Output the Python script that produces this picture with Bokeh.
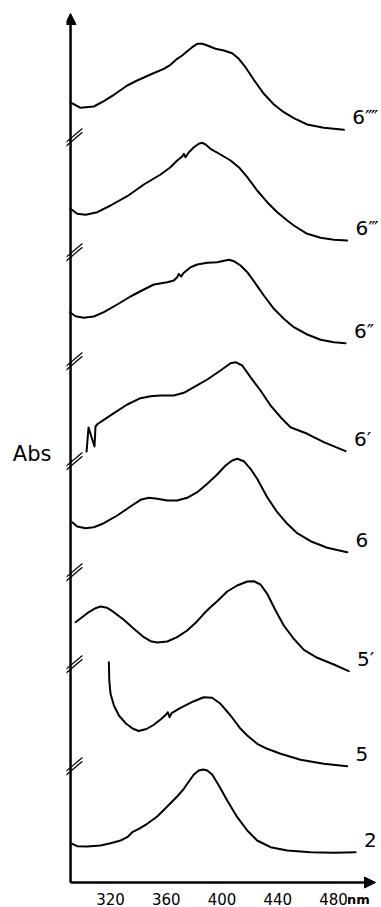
from bokeh.plotting import figure
from bokeh.models import Range1d, FixedTicker, Arrow, NormalHead, LinearAxis
from bokeh.embed import file_html
from bokeh.resources import INLINE
from bokeh.core.properties import value

# ---- data: wavelength (nm) and stacked absorbance (arb. units) ----
wl_6_4 = [291.3, 298.5, 308.0, 315.2, 322.4, 332.0, 339.1, 348.7, 358.2, 363.0, 367.8,
          371.4, 375.0, 378.6, 382.2, 385.8, 389.4, 395.3, 401.3, 407.3, 412.0, 416.8,
          422.8, 430.0, 437.2, 444.3, 451.5, 461.1, 473.0, 487.4]
ab_6_4 = [78.0, 77.47, 77.6, 78.13, 78.77, 79.7, 80.2, 80.8, 81.37, 81.77, 82.37,
          82.7, 83.13, 83.53, 83.87, 83.87, 83.7, 83.37, 83.2, 82.93, 82.37, 81.53,
          80.27, 78.87, 77.8, 77.03, 76.43, 75.8, 75.47, 75.27]

wl_6_3 = [291.3, 296.1, 302.1, 310.5, 320.0, 332.0, 343.9, 355.9, 363.0, 367.8, 371.4,
          372.6, 373.8, 376.2, 379.8, 383.3, 385.8, 388.2, 391.7, 398.9, 406.1, 412.0,
          418.1, 425.2, 432.4, 439.6, 446.8, 451.5, 461.1, 470.7, 480.2, 489.8]
ab_6_3 = [67.37, 66.87, 66.77, 67.03, 67.7, 68.63, 69.8, 70.8, 71.53, 72.2, 72.6,
          72.87, 72.53, 73.03, 73.53, 73.87, 73.97, 73.8, 73.37, 72.8, 72.2, 71.53,
          70.53, 69.2, 68.03, 67.03, 66.2, 65.7, 64.87, 64.47, 64.27, 64.2]

wl_6_2 = [290.8, 294.9, 300.8, 308.0, 315.2, 324.8, 334.3, 343.9, 351.1, 360.7, 365.4,
          367.8, 369.0, 370.7, 372.2, 377.4, 382.2, 389.4, 396.5, 404.9, 408.5, 413.3,
          418.1, 422.8, 430.0, 437.2, 444.3, 451.5, 461.1, 470.7, 480.2, 488.6]
ab_6_2 = [57.03, 56.63, 56.47, 56.6, 57.03, 57.8, 58.6, 59.3, 59.8, 60.03, 60.2,
          60.53, 60.87, 60.6, 60.93, 61.53, 61.8, 61.97, 62.03, 62.27, 62.13, 61.7,
          61.03, 60.13, 58.7, 57.37, 56.37, 55.53, 54.8, 54.27, 54.03, 53.93]

wl_6_1 = [302.8, 304.2, 308.5, 309.2, 310.7, 315.2, 322.4, 332.0, 341.5, 348.7, 355.9,
          365.4, 372.6, 379.8, 389.4, 398.9, 406.1, 409.7, 414.5, 420.4, 427.6, 434.8,
          442.0, 449.1, 461.1, 473.0, 488.6]
ab_6_1 = [43.1, 45.5, 43.6, 45.6, 45.85, 46.27, 46.93, 47.8, 48.43, 48.63, 48.7,
          48.7, 48.97, 49.53, 50.3, 51.2, 51.93, 52.03, 51.7, 50.53, 49.2, 47.7,
          46.53, 45.53, 44.87, 44.03, 43.13]

wl_6 = [292.5, 296.1, 302.1, 308.0, 315.2, 324.8, 334.3, 341.5, 347.5, 353.5, 360.7,
        367.8, 375.0, 382.2, 389.4, 396.5, 402.5, 407.3, 410.9, 415.6, 420.4, 425.2,
        432.4, 439.6, 446.8, 453.9, 463.5, 475.5, 489.8]
ab_6 = [36.03, 35.6, 35.43, 35.53, 35.93, 36.7, 37.6, 38.27, 38.47, 38.37, 38.2,
        38.2, 38.47, 39.03, 39.87, 40.8, 41.7, 42.2, 42.37, 42.13, 41.37, 40.37,
        38.53, 37.03, 35.87, 34.93, 34.13, 33.47, 33.03]

wl_5_1 = [294.9, 303.3, 309.2, 312.8, 317.6, 322.4, 329.5, 336.7, 343.9, 348.7, 353.5,
          360.7, 367.8, 375.0, 382.2, 386.9, 390.5, 396.5, 403.7, 410.9, 418.1, 422.8,
          427.6, 432.4, 438.4, 444.3, 451.5, 458.7, 468.3, 480.2, 490.9]
ab_5_1 = [26.03, 26.93, 27.43, 27.6, 27.47, 27.03, 26.27, 25.37, 24.53, 24.13, 24.0,
          24.1, 24.53, 25.2, 26.13, 26.87, 27.37, 28.13, 29.1, 29.7, 30.1, 30.13,
          29.8, 28.87, 27.2, 25.7, 24.37, 23.27, 22.47, 21.8, 21.13]

wl_5 = [318.8, 319.1, 320.0, 322.4, 326.0, 330.8, 335.8, 340.1, 345.8, 350.8, 355.9,
        359.5, 361.1, 362.3, 363.8, 370.2, 379.8, 386.9, 392.9, 398.9, 406.1, 413.3,
        418.1, 425.2, 432.4, 442.0, 456.3, 473.0, 489.8]
ab_5 = [22.03, 20.2, 18.87, 17.7, 16.7, 15.93, 15.4, 15.15, 15.35, 15.75, 16.3,
        16.75, 17.03, 16.53, 16.93, 17.47, 18.13, 18.53, 18.47, 17.87, 16.7, 15.37,
        14.7, 13.87, 13.37, 12.87, 12.27, 11.87, 11.63]

wl_2 = [292.5, 296.1, 303.3, 312.8, 320.0, 327.2, 332.0, 335.6, 340.3, 346.3, 353.5,
        360.7, 367.8, 372.6, 376.2, 379.8, 383.3, 386.5, 389.4, 392.9, 397.7, 403.7,
        410.9, 418.1, 425.2, 434.8, 446.8, 463.5, 480.2, 495.8]
ab_2 = [3.87, 3.63, 3.6, 3.7, 3.93, 4.2, 4.53, 5.03, 5.37, 5.87, 6.6,
        7.6, 8.6, 9.37, 10.1, 10.8, 11.2, 11.3, 11.2, 10.8, 9.7, 8.2,
        6.53, 5.2, 4.2, 3.53, 3.2, 3.03, 2.97, 3.03]

series_names = ["6\u2057", "6\u2034", "6\u2033", "6\u2032", "6", "5\u2032", "5", "2"]
series_wl = [wl_6_4, wl_6_3, wl_6_2, wl_6_1, wl_6, wl_5_1, wl_5, wl_2]
series_ab = [ab_6_4, ab_6_3, ab_6_2, ab_6_1, ab_6, ab_5_1, ab_5, ab_2]

tick_values = [320, 360, 400, 440, 480]
tick_labels = ["320", "360", "400", "440", "480"]
x_unit = "nm"
x_unit_pos = 497.9
y_title = "Abs"

# axis extent and break marks on the ordinate
x_axis_start = 291.3
x_axis_end = 510.1
y_axis_top = 86.9
break_levels = [11.5, 21.7, 30.9, 42.0, 52.0, 62.9, 74.4]

FONT = "DejaVu Sans"

p = figure(width=381, height=907, output_backend="svg", toolbar_location=None,
           x_range=Range1d(288.4, 514.4), y_range=Range1d(-2.5, 88.2),
           min_border_left=66, min_border_right=0, min_border_top=0, min_border_bottom=0)
p.grid.visible = False
p.outline_line_color = None
p.background_fill_color = "white"
p.border_fill_color = "white"


def plain_axis(ax):
    ax.axis_line_color = None
    ax.major_tick_line_color = None
    ax.minor_tick_line_color = None
    ax.major_tick_out = 0
    ax.major_tick_in = 0
    ax.minor_tick_out = 0
    ax.minor_tick_in = 0
    ax.major_label_text_font = FONT
    ax.major_label_text_color = "black"


xa = p.xaxis[0]
plain_axis(xa)
xa.fixed_location = 0
xa.ticker = FixedTicker(ticks=tick_values)
xa.major_label_overrides = {v: s for v, s in zip(tick_values, tick_labels)}
xa.major_label_standoff = 10
xa.major_label_text_font_size = "15px"

# unit "nm" written after the last tick label
ua = LinearAxis(fixed_location=0, ticker=FixedTicker(ticks=[x_unit_pos]),
                major_label_overrides={x_unit_pos: x_unit})
plain_axis(ua)
ua.major_label_standoff = 9
ua.major_label_text_font_size = "13px"
ua.major_label_text_font_style = "bold"
p.add_layout(ua, "below")

ya = p.yaxis[0]
plain_axis(ya)
ya.ticker = FixedTicker(ticks=[])
ya.major_label_standoff = 0
ya.axis_label = y_title
ya.axis_label_orientation = "horizontal"
ya.axis_label_standoff = 15
ya.axis_label_text_font = FONT
ya.axis_label_text_font_size = "21px"
ya.axis_label_text_font_style = "normal"
ya.axis_label_text_color = "black"

# axes with arrowheads
p.add_layout(Arrow(end=NormalHead(size=11, fill_color="black", line_color="black"),
                   x_start=x_axis_start, y_start=0, x_end=x_axis_end, y_end=0,
                   line_width=2.5, line_color="black"))
p.add_layout(Arrow(end=NormalHead(size=11, fill_color="black", line_color="black"),
                   x_start=x_axis_start, y_start=0, x_end=x_axis_start, y_end=y_axis_top,
                   line_width=2.5, line_color="black"))

# axis-break double slashes
dx, dy, gap = 8.5, 1.0, 0.38
n = len(break_levels)
for off in (0.0, -gap):
    p.segment(x0=[x_axis_start - dx] * n, y0=[b - dy + off for b in break_levels],
              x1=[x_axis_start + dx] * n, y1=[b + dy + off for b in break_levels],
              line_width=1.2, line_color="black")

# spectra
for wl, ab in zip(series_wl, series_ab):
    p.line(wl, ab, line_width=2, line_color="black", line_join="round", line_cap="round")

# curve labels at the right end of each spectrum
p.text(x=[wl[-1] + 6.0 for wl in series_wl], y=[ab[-1] + 1.25 for ab in series_ab],
       text=series_names, text_font=value(FONT), text_font_size="20px",
       text_baseline="middle", text_align="left", text_color="black")

open("out.html", "w").write(file_html(p, INLINE))
